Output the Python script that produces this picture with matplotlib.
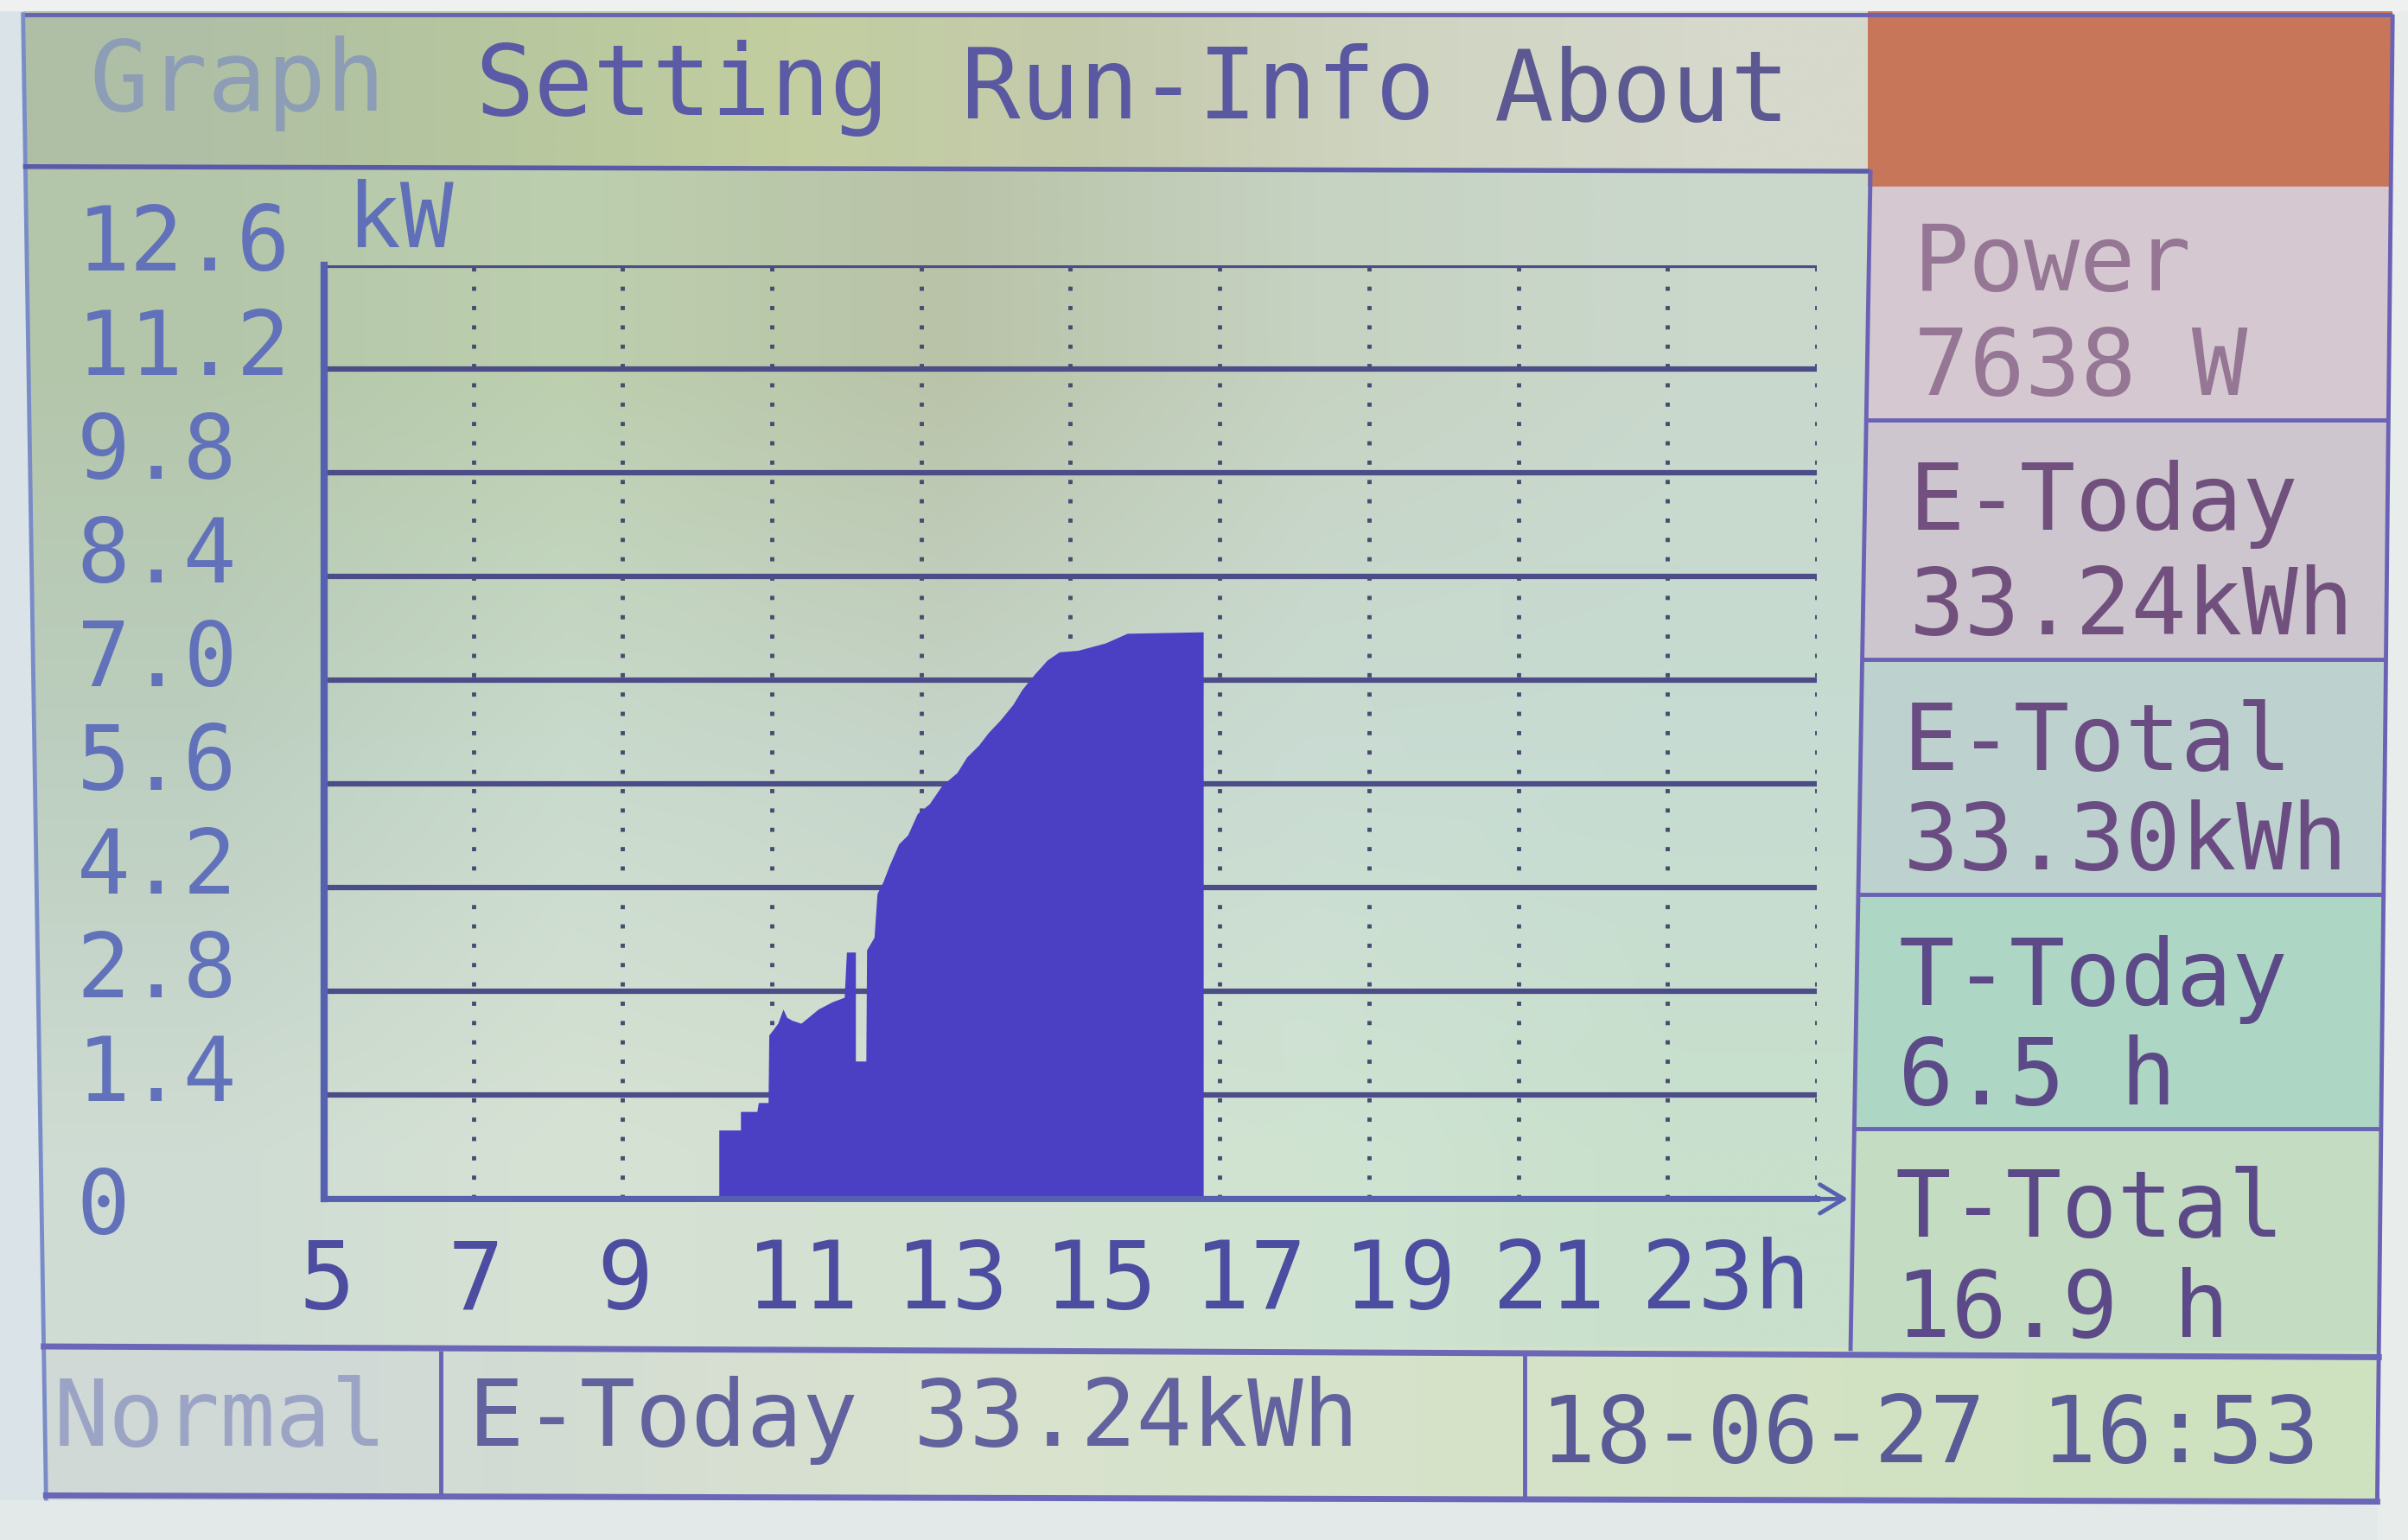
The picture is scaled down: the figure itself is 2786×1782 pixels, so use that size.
import numpy as np
import matplotlib
matplotlib.use("Agg")
import matplotlib.pyplot as plt
from matplotlib.patches import Polygon
from matplotlib.colors import to_rgb
import matplotlib.transforms as mtransforms

# ---------------- data (outline of the power curve, read from the LCD) ----------------
hours = [10.29, 10.29, 10.58, 10.58, 10.80, 10.82, 10.95, 10.96, 11.08, 11.15,
         11.20, 11.27, 11.39, 11.50, 11.62, 11.81, 11.97, 12.00, 12.12, 12.12,
         12.26, 12.27, 12.37, 12.41, 12.49, 12.57, 12.70, 12.82, 12.95, 13.11,
         13.28, 13.48, 13.61, 13.77, 13.90, 14.06, 14.23, 14.35, 14.52, 14.69,
         14.85, 15.10, 15.47, 15.76, 16.78, 16.78]
power_kw = [0.00, 0.93, 0.93, 1.18, 1.18, 1.30, 1.30, 2.21, 2.37, 2.56,
            2.45, 2.41, 2.37, 2.46, 2.56, 2.66, 2.72, 3.33, 3.33, 1.86,
            1.86, 3.36, 3.53, 4.12, 4.28, 4.49, 4.79, 4.91, 5.20, 5.33,
            5.58, 5.75, 5.96, 6.12, 6.29, 6.46, 6.67, 6.87, 7.08, 7.27,
            7.38, 7.40, 7.50, 7.63, 7.65, 0.00]

x_ticks = [5, 7, 9, 11, 13, 15, 17, 19, 21, 23, 25]
x_tick_labels = ['5', '7', '9', '11', '13', '15', '17', '19', '21', '23h', '']
y_ticks = [0, 1.4, 2.8, 4.2, 5.6, 7.0, 8.4, 9.8, 11.2, 12.6]
y_tick_labels = ['0', '1.4', '2.8', '4.2', '5.6', '7.0', '8.4', '9.8', '11.2', '12.6']
y_unit = 'kW'

menu_items = ['Graph', 'Setting', 'Run-Info', 'About']
panel_labels = ['Power', 'E-Today', 'E-Total', 'T-Today', 'T-Total']
panel_values = ['7638 W', '33.24kWh', '33.30kWh', '6.5 h', '16.9 h']
status_items = ['Normal', 'E-Today 33.24kWh', '18-06-27 16:53']

# ---------------- style ----------------
FONT = 'DejaVu Sans Mono'
plt.rcParams['font.family'] = [FONT, 'DejaVu Sans']
W, H = 1568, 1003          # layout coordinates (reference pixels, shrunk)

FILL = '#4b40c4'
GRID = '#4c4c88'
DOT = '#4a4a70'
AXIS = '#5660b0'
FRAME = '#6a62b4'

fig = plt.figure(figsize=(27.86, 17.83), dpi=100)
fig.patch.set_facecolor('#e6ebe9')
bg = fig.add_axes([0, 0, 1, 1])
bg.axis('off')


def grad(x0, x1, y0, y1, rows, z=0):
    arr = np.array([[to_rgb(c) for c in r] for r in rows])
    bg.imshow(arr, extent=(x0, x1, y1, y0), interpolation='bilinear',
              aspect='auto', zorder=z)


def left_x(y):
    return 15 + (y - 10) * 15 / 965


def right_x(y):
    return 1558 - (y - 10) * 10 / 965


def sep_x(y):
    return 1218 - (y - 111) * 13 / 769


# screen background regions
grad(10, 1220, 8, 112, [['#aebfa6', '#b6c69e', '#c2cea0', '#c4caac', '#d0d5c2', '#d6d9cb']], z=0)
grad(10, 1220, 112, 880, [
    ['#b4c6aa', '#bccfae', '#b9c3a8', '#c6d3c2', '#cad8cc'],
    ['#bccfc0', '#c9dbcd', '#c6d5ca', '#cadcd3', '#c6dcd2'],
    ['#cfdcd3', '#d6e2d4', '#d3e1d1', '#d0e4d2', '#c8e0cc'],
], z=0)
grad(10, 1560, 878, 980, [['#d0d9d6', '#d9e2cf', '#d6e2c8', '#cfe2c0']], z=0)

# orange corner box
bg.add_patch(Polygon([(1216, 8), (1560, 8), (1560, 122), (1216, 122)],
                     closed=True, fc='#c8765a', ec='none', zorder=1))

# right panel boxes
box_edges = [122, 274, 430, 583, 735, 880]
box_cols = ['#d5c8d0', '#cdc6cf', '#bdd2cf', '#add6c4', '#c3dcc2']
for (ya, yb), c in zip(zip(box_edges[:-1], box_edges[1:]), box_cols):
    bg.add_patch(Polygon([(sep_x(ya), ya), (right_x(ya), ya),
                          (right_x(yb), yb), (sep_x(yb), yb)],
                         closed=True, fc=c, ec='none', zorder=1))

# outside of the screen
OUT = '#e3e9e8'
bg.add_patch(Polygon([(0, 0), (left_x(0), 0), (left_x(H), H), (0, H)],
                     closed=True, fc='#d9e3e8', ec='none', zorder=2))
bg.add_patch(Polygon([(0, 977), (W, 977), (W, H), (0, H)], closed=True,
                     fc=OUT, ec='none', zorder=2))
bg.add_patch(Polygon([(right_x(0), 0), (W, 0), (W, H), (right_x(H), H)],
                     closed=True, fc='#e8ecea', ec='none', zorder=2))
bg.add_patch(Polygon([(0, 0), (W, 0), (W, 8), (0, 8)], closed=True,
                     fc='#eef1ef', ec='none', zorder=2))

# frame lines
kw = dict(color=FRAME, lw=3.5, solid_capstyle='butt', zorder=3)
bg.plot([left_x(10), right_x(10)], [10, 10], **kw)
bg.plot([left_x(10), left_x(976)], [10, 976], color='#7a8cc8', lw=3.5, zorder=3)
bg.plot([right_x(10), right_x(976)], [10, 976], **kw)
bg.plot([left_x(976), right_x(976)], [974, 978], color='#6a66b8', lw=5, zorder=3)
bg.plot([left_x(111), 1216], [109, 112], color='#5a5aa8', lw=4, zorder=3)
bg.plot([sep_x(111), sep_x(880)], [111, 880], **kw)
for yb in box_edges[1:-1]:
    bg.plot([sep_x(yb), right_x(yb)], [yb, yb], **kw)
bg.plot([left_x(880), right_x(880)], [877, 884], color='#6a66b8', lw=5, zorder=3)
bg.plot([287, 287], [880, 974], **kw)
bg.plot([993, 993], [882, 976], **kw)

# menu text
menu_x = [58, 309, 626, 973]
menu_base = [72, 75, 77, 79]
menu_cols = ['#8d9db6', '#5a5aa6', '#5a58a0', '#5c5892']
for t, x, yb, c in zip(menu_items, menu_x, menu_base, menu_cols):
    bg.text(x, yb, t, fontsize=82, color=c, va='baseline', ha='left', zorder=4)

# right panel text
lab_x = [1246, 1243, 1239, 1236, 1234]
lab_base = [189, 345, 501, 654, 805]
val_base = [257, 413, 566, 719, 870]
lab_cols = ['#957694', '#71507e', '#6a4c82', '#5c4a88', '#5c4a88']
for t, v, x, yl, yv, c in zip(panel_labels, panel_values, lab_x, lab_base,
                              val_base, lab_cols):
    bg.text(x, yl, t, fontsize=77, color=c, va='baseline', ha='left', zorder=4)
    bg.text(x, yv, v, fontsize=77, color=c, va='baseline', ha='left', zorder=4)

# status bar text
st_x = [35, 305, 1003]
st_base = [941, 941, 952]
st_cols = ['#9ca4c6', '#62629e', '#5a5a96']
for t, x, yb, c in zip(status_items, st_x, st_base, st_cols):
    bg.text(x, yb, t, fontsize=77, color=c, va='baseline', ha='left', zorder=4)

# unit label
bg.text(226, 161, y_unit, fontsize=74, color='#6070b8', va='baseline',
        ha='left', zorder=4)

bg.set_xlim(0, W)
bg.set_ylim(H, 0)

# ---------------- chart ----------------
ax = fig.add_axes([211 / W, 1 - 781 / H, (1183 - 211) / W, (781 - 173) / H])
ax.set_facecolor('none')
ax.set_xlim(5, 25)
ax.set_ylim(0, 12.6)

ax.fill_between(hours, power_kw, color=FILL, lw=0, zorder=3)

ax.set_axisbelow(True)
ax.set_xticks(x_ticks)
ax.set_xticklabels(x_tick_labels)
ax.set_yticks(y_ticks)
ax.set_yticklabels(y_tick_labels)
ax.grid(axis='y', color=GRID, lw=4.5, ls='-')
ax.grid(axis='x', color=DOT, lw=3.5, ls=(0, (1, 3.6)))

for s in ['top', 'right']:
    ax.spines[s].set_visible(False)
ax.spines['left'].set_color(AXIS)
ax.spines['left'].set_linewidth(6)
ax.spines['bottom'].set_color(AXIS)
ax.spines['bottom'].set_linewidth(5)
for s in ['left', 'bottom']:
    ax.spines[s].set_zorder(4)

ax.tick_params(length=0)
ax.tick_params(axis='y', pad=206, labelsize=74, labelcolor='#6272ba')
ax.tick_params(axis='x', pad=30, labelsize=78, labelcolor='#4c4ca0')

for lab, txt in zip(ax.get_yticklabels(), y_tick_labels):
    lab.set_ha('left')
    lab.set_va('center')
    dy = -0.11 if txt == '0' else 0.23
    lab.set_transform(lab.get_transform() +
                      mtransforms.ScaledTranslation(0, dy, fig.dpi_scale_trans))
for lab in ax.get_xticklabels():
    lab.set_ha('left')
    lab.set_transform(lab.get_transform() +
                      mtransforms.ScaledTranslation(-0.30, 0, fig.dpi_scale_trans))

ax.annotate('', xy=(25.45, 0), xytext=(24.9, 0), xycoords='data',
            arrowprops=dict(arrowstyle='->,head_length=0.5,head_width=0.3',
                            color=AXIS, lw=3.5, mutation_scale=40),
            annotation_clip=False, zorder=4)

fig.savefig('out.png', dpi=100, facecolor=fig.get_facecolor())
